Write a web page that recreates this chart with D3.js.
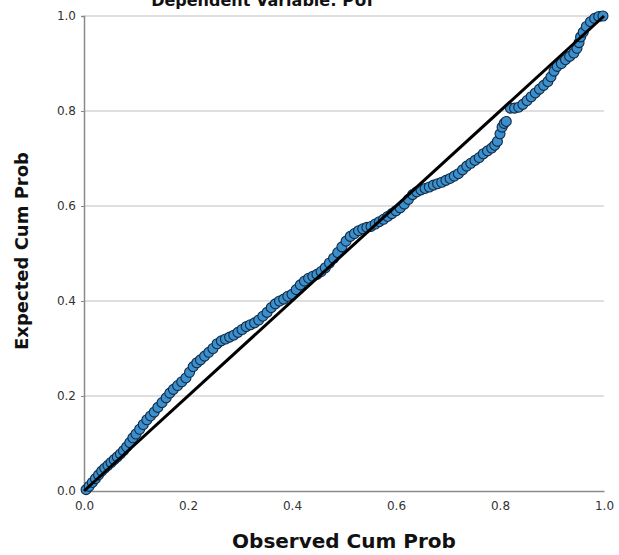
<!DOCTYPE html>
<html>
<head>
<meta charset="utf-8">
<script src="https://cdn.jsdelivr.net/npm/d3@7"></script>
<style>
  body { margin: 0; background: #fff; }
  svg { display: block; font-family: "DejaVu Sans", sans-serif; }
</style>
</head>
<body>
<div id="chart"></div>
<script>
// observed cumulative probability (x) and expected cumulative probability (y)
const observed = [
  0.004, 0.010, 0.016, 0.022, 0.028, 0.034, 0.040, 0.046, 0.052, 0.058,
  0.064, 0.070, 0.076, 0.082, 0.088, 0.094, 0.100, 0.107, 0.114, 0.121,
  0.128, 0.135, 0.142, 0.150, 0.158, 0.165, 0.172, 0.180, 0.188, 0.196,
  0.203, 0.210, 0.217, 0.224, 0.232, 0.240, 0.248, 0.256, 0.264, 0.272,
  0.280, 0.288, 0.296, 0.304, 0.312, 0.320, 0.328, 0.336, 0.344, 0.352,
  0.360, 0.368, 0.376, 0.384, 0.392, 0.400, 0.408, 0.416, 0.424, 0.432,
  0.440, 0.448, 0.456, 0.464, 0.472, 0.480, 0.488, 0.496, 0.504, 0.512,
  0.520, 0.528, 0.536, 0.544, 0.552, 0.560, 0.568, 0.576, 0.584, 0.592,
  0.600, 0.608, 0.616, 0.624, 0.632, 0.640, 0.648, 0.656, 0.664, 0.672,
  0.680, 0.688, 0.696, 0.704, 0.712, 0.720, 0.728, 0.736, 0.744, 0.752,
  0.760, 0.768, 0.776, 0.784, 0.790, 0.795, 0.800, 0.804, 0.808, 0.812,
  0.820, 0.828, 0.836, 0.844, 0.852, 0.860, 0.868, 0.876, 0.884, 0.892,
  0.898, 0.904, 0.910, 0.918, 0.926, 0.934, 0.942, 0.948, 0.952, 0.955,
  0.960, 0.966, 0.974, 0.982, 0.990, 0.998
];
const expected = [
  0.003, 0.010, 0.018, 0.026, 0.034, 0.042, 0.048, 0.054, 0.060, 0.066,
  0.072, 0.078, 0.085, 0.093, 0.102, 0.112, 0.120, 0.130, 0.140, 0.150,
  0.158, 0.166, 0.176, 0.186, 0.196, 0.206, 0.214, 0.222, 0.230, 0.238,
  0.250, 0.262, 0.270, 0.276, 0.284, 0.292, 0.300, 0.310, 0.316, 0.320,
  0.324, 0.328, 0.334, 0.340, 0.346, 0.350, 0.354, 0.360, 0.368, 0.376,
  0.386, 0.394, 0.400, 0.404, 0.410, 0.414, 0.424, 0.434, 0.442, 0.448,
  0.452, 0.456, 0.462, 0.470, 0.480, 0.490, 0.502, 0.514, 0.526, 0.536,
  0.542, 0.548, 0.552, 0.555, 0.557, 0.562, 0.567, 0.572, 0.578, 0.584,
  0.590, 0.596, 0.604, 0.614, 0.624, 0.630, 0.634, 0.637, 0.640, 0.644,
  0.647, 0.650, 0.654, 0.658, 0.663, 0.668, 0.676, 0.684, 0.690, 0.696,
  0.702, 0.710, 0.716, 0.722, 0.728, 0.736, 0.752, 0.766, 0.774, 0.778,
  0.806, 0.806, 0.808, 0.814, 0.822, 0.830, 0.838, 0.846, 0.854, 0.862,
  0.872, 0.884, 0.894, 0.900, 0.908, 0.915, 0.922, 0.932, 0.944, 0.956,
  0.966, 0.978, 0.988, 0.995, 0.999, 1.000
];
const ticks = [0.0, 0.2, 0.4, 0.6, 0.8, 1.0];
const title = "Dependent Variable: PUI";
const xLabel = "Observed Cum Prob";
const yLabel = "Expected Cum Prob";

const width = 619;
const height = 555;
const margin = {top: 16, left: 84, bottom: 64, right: 15};
const iwidth = width - margin.left - margin.right;
const iheight = height - margin.top - margin.bottom;

const data = observed.map((d, i) => ({x: d, y: expected[i]}));

const svg = d3.select("#chart").append("svg")
    .attr("width", width)
    .attr("height", height);

const g = svg.append("g").attr("transform", `translate(${margin.left},${margin.top})`);

const x = d3.scaleLinear().domain([0, 1]).range([0, iwidth]);
const y = d3.scaleLinear().domain([0, 1]).range([iheight, 0]);

// horizontal grid lines
g.append("g")
    .selectAll("line")
    .data(ticks.filter(t => t > 0))
    .enter().append("line")
    .attr("x1", 0)
    .attr("x2", iwidth)
    .attr("y1", d => y(d))
    .attr("y2", d => y(d))
    .attr("stroke", "#d4d4d4")
    .attr("stroke-width", 1.5);

// axes
const xAxis = g.append("g")
    .attr("transform", `translate(0,${iheight})`)
    .call(d3.axisBottom(x).tickValues(ticks).tickFormat(d3.format(".1f")).tickSize(0).tickPadding(10));
const yAxis = g.append("g")
    .call(d3.axisLeft(y).tickValues(ticks).tickFormat(d3.format(".1f")).tickSize(3).tickPadding(5));

[xAxis, yAxis].forEach(a => {
    a.select(".domain").attr("stroke", "#8a8a8a").attr("stroke-width", 1.5);
    a.selectAll(".tick line").attr("stroke", "#8a8a8a");
    a.selectAll("text").attr("fill", "#333").style("font-size", "12px").style("font-family", "DejaVu Sans, sans-serif");
});

// points
g.append("g")
    .selectAll("circle")
    .data(data)
    .enter().append("circle")
    .attr("cx", d => x(d.x))
    .attr("cy", d => y(d.y))
    .attr("r", 5)
    .attr("fill", "#3a8fcc")
    .attr("stroke", "#112a44")
    .attr("stroke-width", 1.1);

// reference line
g.append("line")
    .attr("x1", x(0))
    .attr("y1", y(0))
    .attr("x2", x(1))
    .attr("y2", y(1))
    .attr("stroke", "#000")
    .attr("stroke-width", 3);

// titles
svg.append("text")
    .attr("x", 262)
    .attr("y", 6)
    .attr("text-anchor", "middle")
    .style("font-size", "16px")
    .style("font-weight", "bold")
    .attr("fill", "#111")
    .text(title);

svg.append("text")
    .attr("x", 344)
    .attr("y", 548)
    .attr("text-anchor", "middle")
    .style("font-size", "20px")
    .style("font-weight", "bold")
    .attr("fill", "#111")
    .text(xLabel);

svg.append("text")
    .attr("transform", "translate(28,251) rotate(-90)")
    .attr("text-anchor", "middle")
    .style("font-size", "18px")
    .style("font-weight", "bold")
    .attr("fill", "#111")
    .text(yLabel);
</script>
</body>
</html>
